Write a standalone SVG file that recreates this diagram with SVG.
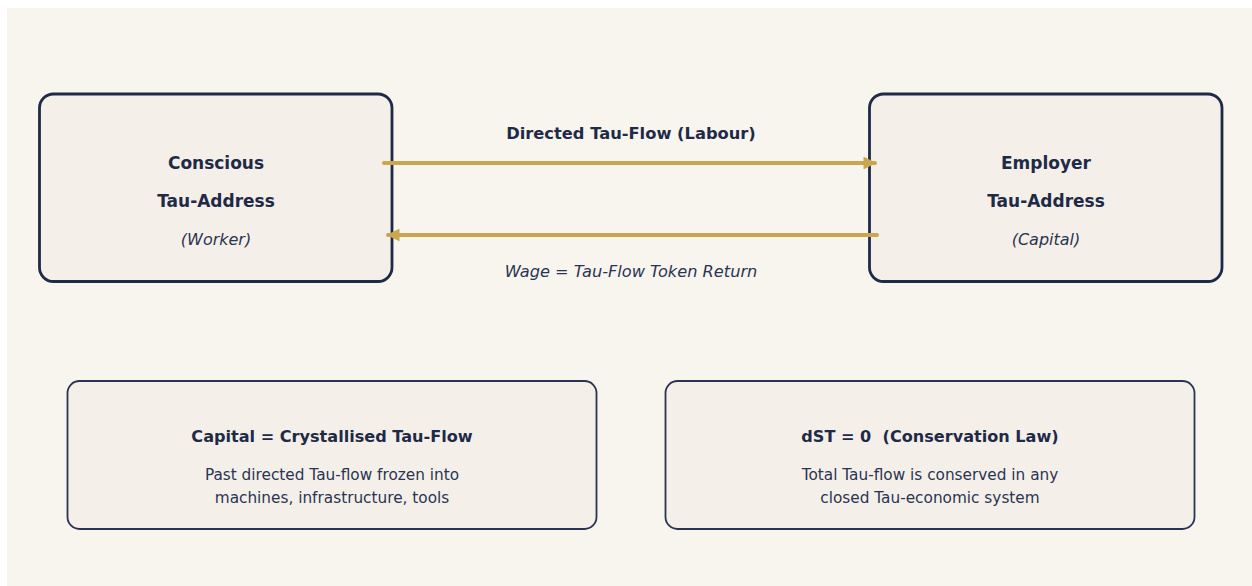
<svg xmlns="http://www.w3.org/2000/svg" width="1252" height="586" viewBox="0 0 1252 586">
<defs>
<style>
.bg{fill:#f8f5ef}
.big{fill:#f4f0e9;stroke:#1f2a47;stroke-width:2.8}
.small{fill:#f4f0e9;stroke:#2a3452;stroke-width:1.8}
text{font-family:"DejaVu Sans","Liberation Sans",sans-serif;text-anchor:middle;fill:#1f2a47}
.b{font-weight:bold;font-size:17px}
.i{font-style:italic;font-size:16px;fill:#2a3452}
.t{font-weight:bold;font-size:16.1px}
.d{font-size:15.3px;fill:#2a3452}
.flow{stroke:#c9a64f;stroke-width:4;fill:none;stroke-linecap:round}
</style>
<marker id="ah" viewBox="0 0 10 10" refX="9" refY="5" markerWidth="3.2" markerHeight="3.2" orient="auto-start-reverse" markerUnits="strokeWidth">
<path d="M0,0 L10,5 L0,10 z" fill="#c9a64f"/>
</marker>
</defs>
<rect class="bg" x="7" y="8" width="1245" height="578"/>
<g id="worker">
<rect class="big" x="39.5" y="94" width="352.5" height="187.5" rx="14"/>
<text class="b" x="216" y="169">Conscious</text>
<text class="b" x="216" y="207">Tau-Address</text>
<text class="i" x="216" y="245">(Worker)</text>
</g>
<g id="employer">
<rect class="big" x="869.5" y="94" width="352.5" height="187.5" rx="14"/>
<text class="b" x="1046" y="169">Employer</text>
<text class="b" x="1046" y="207">Tau-Address</text>
<text class="i" x="1046" y="245">(Capital)</text>
</g>
<g id="connectors">
<line class="flow" x1="384" y1="163" x2="875" y2="163" marker-end="url(#ah)"/>
<line class="flow" x1="877" y1="235" x2="388" y2="235" marker-end="url(#ah)"/>
<text class="b" x="631" y="139" style="font-size:16.3px">Directed Tau-Flow (Labour)</text>
<text class="i" x="631" y="277" style="font-size:16.2px">Wage = Tau-Flow Token Return</text>
</g>
<g id="capital">
<rect class="small" x="67.5" y="381" width="529" height="148" rx="12"/>
<text class="t" x="332" y="442">Capital = Crystallised Tau-Flow</text>
<text class="d" x="332" y="480">Past directed Tau-flow frozen into</text>
<text class="d" x="332" y="503">machines, infrastructure, tools</text>
</g>
<g id="conservation">
<rect class="small" x="665.5" y="381" width="529" height="148" rx="12"/>
<text class="t" x="930" y="442" xml:space="preserve">dST = 0  (Conservation Law)</text>
<text class="d" x="930" y="480">Total Tau-flow is conserved in any</text>
<text class="d" x="930" y="503">closed Tau-economic system</text>
</g>
</svg>
